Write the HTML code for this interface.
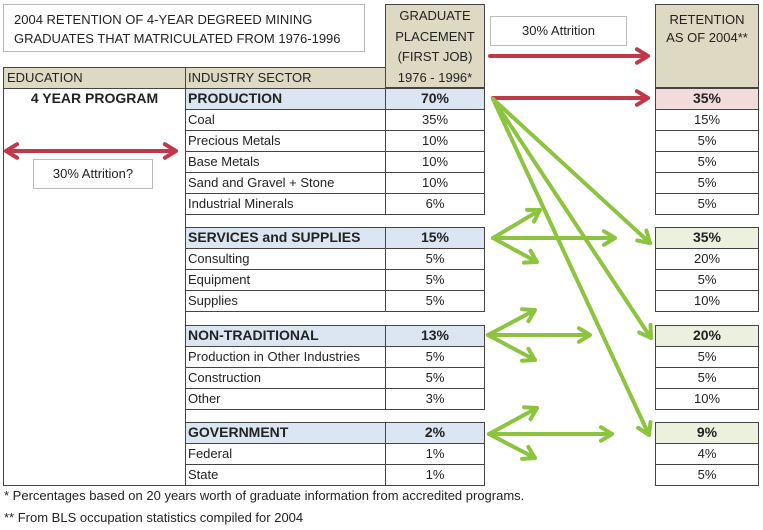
<!DOCTYPE html>
<html><head><meta charset="utf-8"><style>
body{margin:0;width:763px;height:530px;background:#fff;font-family:"Liberation Sans",sans-serif;color:#222;position:relative;overflow:hidden}
.a{position:absolute;box-sizing:border-box}
.c{position:absolute;box-sizing:border-box;border:1px solid #444;font-size:13px;line-height:19px;white-space:nowrap;overflow:hidden}
.l{padding-left:2px}.m{text-align:center}
.b{font-weight:bold;font-size:14px}
</style></head><body>
<div class="a" style="left:3px;top:4px;width:362px;height:48px;border:1px solid #bbb;font-size:13px;line-height:19px;padding:5px 0 0 10px">2004 RETENTION OF 4-YEAR DEGREED MINING<br>GRADUATES THAT MATRICULATED FROM 1976-1996</div>
<div class="a" style="left:385px;top:4px;width:100px;height:84px;background:#ddd9c3;border:1px solid #444;font-size:13px;line-height:20.5px;text-align:center;padding-top:1px">GRADUATE<br>PLACEMENT<br>(FIRST JOB)<br>1976 - 1996*</div>
<div class="a" style="left:655px;top:4px;width:104px;height:84px;background:#ddd9c3;border:1px solid #444;font-size:13px;line-height:18px;text-align:center;padding-top:6px">RETENTION<br>AS OF 2004**</div>
<div class="a" style="left:3px;top:67px;width:183px;height:22px;background:#ddd9c3;border:1px solid #444;font-size:13px;line-height:20px;padding-left:3px">EDUCATION</div>
<div class="a" style="left:185px;top:67px;width:201px;height:22px;background:#ddd9c3;border:1px solid #444;font-size:13px;line-height:20px;padding-left:2px">INDUSTRY SECTOR</div>
<div class="a" style="left:3px;top:88px;width:183px;height:398px;border:1px solid #444;border-top:none"></div>
<div class="a" style="left:185px;top:88px;width:1px;height:398px;background:#444"></div>
<div class="a b" style="left:3px;top:90px;width:183px;text-align:center">4 YEAR PROGRAM</div>
<div class="a" style="left:33px;top:159px;width:120px;height:30px;border:1px solid #bbb;font-size:13px;line-height:28px;text-align:center">30% Attrition?</div>
<div class="a" style="left:490px;top:16px;width:137px;height:30px;border:1px solid #bbb;font-size:13px;line-height:28px;text-align:center">30% Attrition</div>
<div id="rows"></div>
<div class="a" style="left:4px;top:487px;font-size:13px;line-height:18px">* Percentages based on 20 years worth of graduate information from accredited programs.</div>
<div class="a" style="left:4px;top:509px;font-size:13px;line-height:18px">** From BLS occupation statistics compiled for 2004</div>
<svg class="a" style="left:0;top:0" width="763" height="530">
<g id="arr" stroke-width="4" fill="none" stroke-linecap="round" stroke-linejoin="round"></g>
</svg>
<script>
const labels=["PRODUCTION","Coal","Precious Metals","Base Metals","Sand and Gravel + Stone","Industrial Minerals",null,"SERVICES and SUPPLIES","Consulting","Equipment","Supplies",null,"NON-TRADITIONAL","Production in Other Industries","Construction","Other",null,"GOVERNMENT","Federal","State"];
const placement=["70%","35%","10%","10%","10%","6%",null,"15%","5%","5%","5%",null,"13%","5%","5%","3%",null,"2%","1%","1%"];
const retention=["35%","15%","5%","5%","5%","5%",null,"35%","20%","5%","10%",null,"20%","5%","5%","10%",null,"9%","4%","5%"];
const retColors=["#f2dcdb","#ebf1de","#ebf1de","#ebf1de"];
const rows=document.getElementById('rows');
let y=88,g=0;
labels.forEach((lab,i)=>{
  if(lab===null){y+=13.3;return;}
  const isHead=(i===0||placement[i-1]===null);
  const bg=isHead?'#dce6f2':'#fff';
  const mk=(x,w,txt,cls,color,name)=>{
    const d=document.createElement('div');
    d.className='c '+cls+(isHead?' b':'');
    d.style.cssText=`left:${x}px;top:${y}px;width:${w}px;height:22px;background:${color};`;
    d.textContent=txt;
    
    
    rows.appendChild(d);
  };
  mk(185,201,lab,'l',bg,'sector-label');
  mk(385,100,placement[i],'m',bg,'placement-value');
  mk(655,104,retention[i],'m',isHead?retColors[g]:'#fff','retention-value');
  if(isHead)g++;
  y+=21;
});
const G='#8cc43f',R='#c0394b';
const arr=document.getElementById('arr');
function arrow(x1,y1,x2,y2,col,both){
  const p=document.createElementNS('http://www.w3.org/2000/svg','path');
  const head=(xa,ya,xb,yb)=>{const a=Math.atan2(yb-ya,xb-xa),L=13,s=0.55;
    return `M${xb-L*Math.cos(a-s)},${yb-L*Math.sin(a-s)}L${xb},${yb}L${xb-L*Math.cos(a+s)},${yb-L*Math.sin(a+s)}`;};
  let d=`M${x1},${y1}L${x2},${y2}`+head(x1,y1,x2,y2);
  if(both)d+=head(x2,y2,x1,y1);
  p.setAttribute('d',d);p.setAttribute('stroke',col);
  
  
  arr.appendChild(p);
}
arrow(490,56,648,56,R);
arrow(6,151,176,151,R,true);
arrow(493,98,648,98,R);
arrow(493,99,650,243,G);arrow(493,99,651,338,G);arrow(493,99,649,435,G);
const fans=[
 {ox:493,oy:238,ux:540,uy:210,rx:615,dx:537,dy:262},
 {ox:488,oy:335,ux:535,uy:310,rx:590,dx:535,dy:360},
 {ox:489,oy:434,ux:537,uy:408,rx:612,dx:535,dy:458}];
fans.forEach(f=>{
  arrow(f.ox,f.oy,f.ux,f.uy,G);
  arrow(f.ox,f.oy,f.rx,f.oy,G);
  arrow(f.ox,f.oy,f.dx,f.dy,G);
});
</script>
</body></html>
